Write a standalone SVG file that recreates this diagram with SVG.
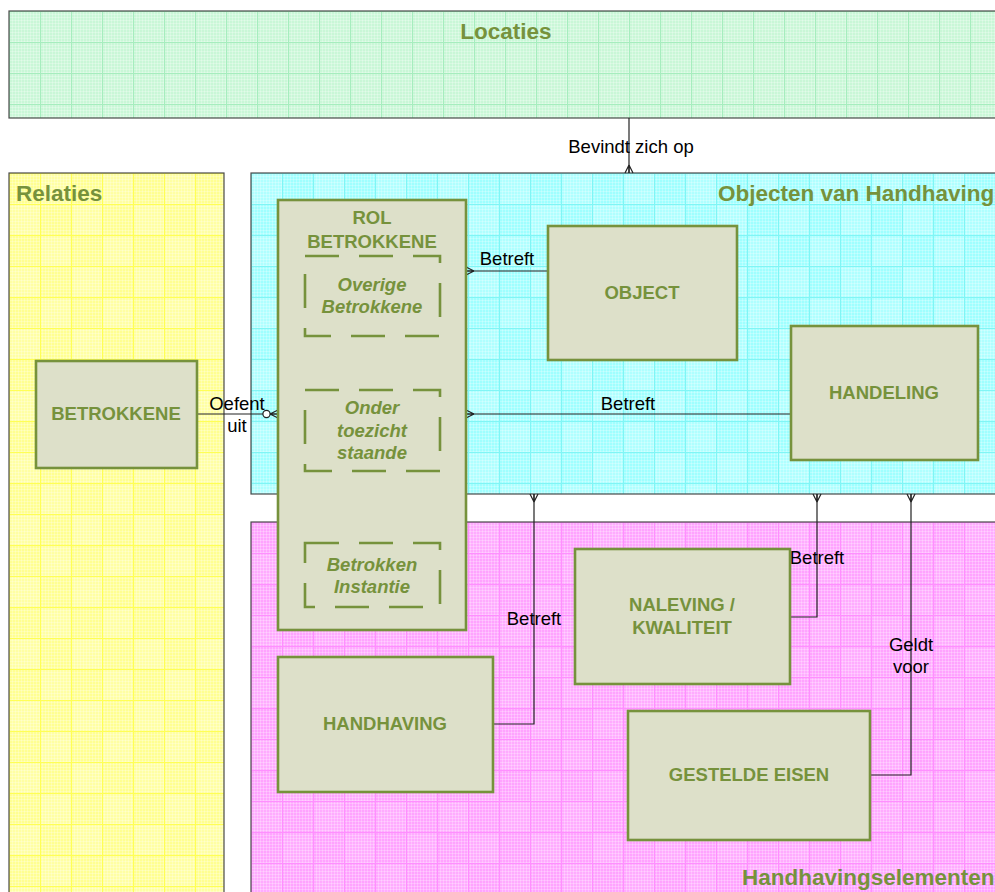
<svg xmlns="http://www.w3.org/2000/svg" width="995" height="892" viewBox="0 0 995 892">
<style>
.cont{stroke:#4a4a4a;stroke-width:1.2}
.title{font-family:"Liberation Sans",Arial,sans-serif;font-weight:bold;font-size:22.5px;fill:#76923C}
.node{fill:#DDE0C9;stroke:#76923C;stroke-width:2.6}
.dash{fill:none;stroke:#76923C;stroke-width:2.6;stroke-dasharray:34 20}
.nt{font-family:"Liberation Sans",Arial,sans-serif;font-weight:bold;font-size:18.5px;fill:#76923C;text-anchor:middle}
.it{font-style:italic}
.lbl{font-family:"Liberation Sans",Arial,sans-serif;font-size:18.5px;fill:#000;text-anchor:middle}
.con{fill:none;stroke:#222;stroke-width:1.2}
</style>
<defs>
<pattern id="fine" width="3" height="3" patternUnits="userSpaceOnUse">
<path d="M0 0.5H3M0.5 0V3" stroke="#fff" stroke-opacity="0.25" stroke-width="1"/>
</pattern>
<pattern id="pG" width="31" height="31" patternUnits="userSpaceOnUse" x="9" y="11">
<rect width="31" height="31" fill="#C9F7D7"/>
<rect width="31" height="31" fill="url(#fine)"/>
<path d="M0 0.5H31M0.5 0V31" stroke="#A6EDBE" stroke-width="1"/>
</pattern>
<pattern id="pY" width="62" height="62" patternUnits="userSpaceOnUse" x="9" y="173">
<rect width="62" height="62" fill="#FFFFA3"/>
<rect width="31" height="31" fill="#FFFF85" opacity="0.6"/>
<rect x="31" y="31" width="31" height="31" fill="#FFFF85" opacity="0.6"/>
<rect width="62" height="62" fill="url(#fine)"/>
<path d="M0 0.5H62M0 31.5H62M0.5 0V62M31.5 0V62" stroke="#FFFF55" stroke-width="1"/>
</pattern>
<pattern id="pC" width="62" height="62" patternUnits="userSpaceOnUse" x="251" y="173">
<rect width="62" height="62" fill="#AFFFFF"/>
<rect x="31" width="31" height="31" fill="#95FFFF" opacity="0.6"/>
<rect y="31" width="31" height="31" fill="#95FFFF" opacity="0.6"/>
<rect width="62" height="62" fill="url(#fine)"/>
<path d="M0 0.5H62M0 31.5H62M0.5 0V62M31.5 0V62" stroke="#80F5F5" stroke-width="1"/>
</pattern>
<pattern id="pM" width="62" height="62" patternUnits="userSpaceOnUse" x="251" y="522">
<rect width="62" height="62" fill="#FFABFF"/>
<rect width="31" height="31" fill="#FF9EFF" opacity="0.6"/>
<rect x="31" y="31" width="31" height="31" fill="#FF9EFF" opacity="0.6"/>
<rect width="62" height="62" fill="url(#fine)"/>
<path d="M0 0.5H62M0 31.5H62M0.5 0V62M31.5 0V62" stroke="#FF8FFF" stroke-width="1"/>
</pattern>
<marker id="crow" markerUnits="userSpaceOnUse" markerWidth="20" markerHeight="20" refX="10" refY="10" orient="auto" viewBox="0 0 20 20" overflow="visible">
<path d="M2 10H10M2 10L10 6M2 10L10 14" fill="none" stroke="#222" stroke-width="1.2"/>
</marker>
<marker id="zcrow" markerUnits="userSpaceOnUse" markerWidth="30" markerHeight="20" refX="20" refY="10" orient="auto" viewBox="0 0 30 20" overflow="visible">
<circle cx="8.5" cy="10" r="3.6" fill="#fff" stroke="#222" stroke-width="1.2"/>
<path d="M12 10H20M12 10L20 6M12 10L20 14" fill="none" stroke="#222" stroke-width="1.2"/>
</marker>
</defs>
<rect width="995" height="892" fill="#fff"/>
<g id="locaties">
<rect class="cont" x="9" y="11" width="1000" height="107" fill="url(#pG)"/>
<text class="title" x="506" y="39" text-anchor="middle">Locaties</text>
</g>
<g id="relaties">
<rect class="cont" x="9" y="173" width="215" height="730" fill="url(#pY)"/>
<text class="title" x="16" y="201">Relaties</text>
</g>
<g id="objecten">
<rect class="cont" x="251" y="173" width="760" height="321" fill="url(#pC)"/>
<text class="title" x="718" y="201">Objecten van Handhaving</text>
</g>
<g id="handhavingselementen">
<rect class="cont" x="251" y="522" width="760" height="380" fill="url(#pM)"/>
<text class="title" x="742" y="885">Handhavingselementen</text>
</g>
<g id="connectors">
<path class="con" d="M629 118V173" marker-end="url(#crow)"/>
<text class="lbl" x="631" y="153">Bevindt zich op</text>
<path class="con" d="M197 414H278" marker-end="url(#zcrow)"/>
<text class="lbl" x="237" y="410">Oefent</text>
<text class="lbl" x="237" y="432">uit</text>
<path class="con" d="M548 271H466" marker-end="url(#crow)"/>
<text class="lbl" x="507" y="265">Betreft</text>
<path class="con" d="M791 414H466" marker-end="url(#crow)"/>
<text class="lbl" x="628" y="410">Betreft</text>
<path class="con" d="M493 724H534V494" marker-end="url(#crow)"/>
<text class="lbl" x="534" y="625">Betreft</text>
<path class="con" d="M790 617H817V494" marker-end="url(#crow)"/>
<text class="lbl" x="817" y="564">Betreft</text>
<path class="con" d="M870 775H911V494" marker-end="url(#crow)"/>
<text class="lbl" x="911" y="651">Geldt</text>
<text class="lbl" x="911" y="673">voor</text>
</g>
<g id="rol-betrokkene">
<rect class="node" x="278" y="200" width="188" height="430"/>
<text class="nt" x="372" y="224">ROL</text>
<text class="nt" x="372" y="248">BETROKKENE</text>
</g>
<g id="overige-betrokkene">
<rect class="dash" x="305" y="256" width="135" height="80"/>
<text class="nt it" x="372" y="291">Overige</text>
<text class="nt it" x="372" y="313">Betrokkene</text>
</g>
<g id="onder-toezicht-staande">
<rect class="dash" x="305" y="390" width="135" height="81"/>
<text class="nt it" x="372" y="414">Onder</text>
<text class="nt it" x="372" y="437">toezicht</text>
<text class="nt it" x="372" y="459">staande</text>
</g>
<g id="betrokken-instantie">
<rect class="dash" x="305" y="543" width="135" height="64"/>
<text class="nt it" x="372" y="571">Betrokken</text>
<text class="nt it" x="372" y="593">Instantie</text>
</g>
<g id="betrokkene">
<rect class="node" x="36" y="361" width="161" height="107"/>
<text class="nt" x="116" y="420">BETROKKENE</text>
</g>
<g id="object">
<rect class="node" x="548" y="226" width="189" height="134"/>
<text class="nt" x="642" y="299">OBJECT</text>
</g>
<g id="handeling">
<rect class="node" x="791" y="326" width="187" height="134"/>
<text class="nt" x="884" y="399">HANDELING</text>
</g>
<g id="naleving-kwaliteit">
<rect class="node" x="575" y="549" width="215" height="135"/>
<text class="nt" x="682" y="611">NALEVING /</text>
<text class="nt" x="682" y="634">KWALITEIT</text>
</g>
<g id="handhaving">
<rect class="node" x="278" y="657" width="215" height="135"/>
<text class="nt" x="385" y="730">HANDHAVING</text>
</g>
<g id="gestelde-eisen">
<rect class="node" x="628" y="711" width="242" height="129"/>
<text class="nt" x="749" y="781">GESTELDE EISEN</text>
</g>
</svg>
